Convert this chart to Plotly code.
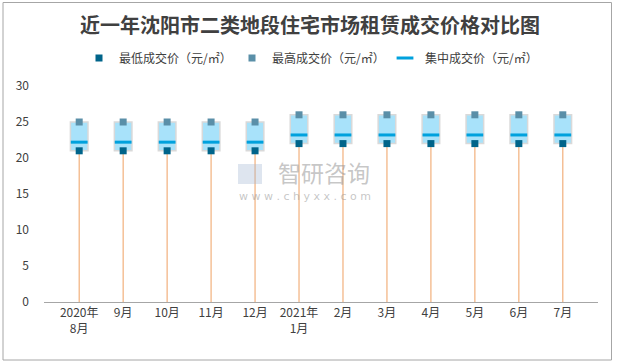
import plotly.graph_objects as go

categories = ["2020年<br>8月", "9月", "10月", "11月", "12月", "2021年<br>1月",
              "2月", "3月", "4月", "5月", "6月", "7月"]
min_price = [21, 21, 21, 21, 21, 22, 22, 22, 22, 22, 22, 22]
max_price = [25, 25, 25, 25, 25, 26, 26, 26, 26, 26, 26, 26]
mid_price = [22.2, 22.2, 22.2, 22.2, 22.2, 23.2, 23.2, 23.2, 23.2, 23.2, 23.2, 23.2]
y_ticks = [0, 5, 10, 15, 20, 25, 30]

FONT = "Noto Sans CJK SC"
W, H = 617, 363
L, R, T, B = 44, 19, 86, 61

fig = go.Figure()

# drop lines from axis to the low value
fig.add_trace(go.Scatter(
    x=categories, y=[0] * len(categories), mode="markers",
    marker=dict(size=1, color="rgba(0,0,0,0)"),
    error_y=dict(type="data", symmetric=False, array=min_price,
                 arrayminus=[0] * len(categories), width=0,
                 color="#f2b07c", thickness=1.2),
    showlegend=False, hoverinfo="skip"))

# boxes (up bars) from low to high
fig.add_trace(go.Bar(
    x=categories, y=[h - l for h, l in zip(max_price, min_price)], base=min_price,
    width=0.4, marker=dict(color="#a8e2fa", line=dict(color="#d9d9d9", width=1.5)),
    showlegend=False, hoverinfo="skip"))

fig.add_trace(go.Scatter(
    x=categories, y=min_price, mode="markers", name="最低成交价（元/㎡）",
    marker=dict(symbol="square", size=7, color="#00648a")))
fig.add_trace(go.Scatter(
    x=categories, y=max_price, mode="markers", name="最高成交价（元/㎡）",
    marker=dict(symbol="square", size=7, color="#5a8fa8")))
fig.add_trace(go.Scatter(
    x=categories, y=mid_price, mode="markers", name="集中成交价（元/㎡）",
    marker=dict(symbol="line-ew", size=12, line=dict(color="#00a1dd", width=3))))

pw = W - L - R
ph = H - T - B
def px(x):
    return (x - L) / pw
def py(y):
    return (H - B - y) / ph

fig.add_shape(type="rect", xref="paper", yref="paper",
              x0=px(3), x1=px(611.5), y0=py(2.5), y1=py(360),
              line=dict(color="#a6a6a6", width=1), layer="below")

fig.add_annotation(text="近一年沈阳市二类地段住宅市场租赁成交价格对比图",
                   xref="paper", yref="paper", x=px(310), y=py(25),
                   showarrow=False, xanchor="center", yanchor="middle",
                   font=dict(family=FONT, size=20, color="#404040", weight="bold"))

# watermark
fig.add_annotation(text="智研咨询", xref="paper", yref="paper", x=px(324), y=py(172),
                   showarrow=False, xanchor="center", yanchor="middle",
                   font=dict(family=FONT, size=23, color="rgba(150,150,150,0.55)"))
fig.add_annotation(text="w w w . c h y x x . c o m", xref="paper", yref="paper",
                   x=px(305), y=py(196), showarrow=False, xanchor="center", yanchor="middle",
                   font=dict(family="DejaVu Sans", size=11, color="rgba(150,150,150,0.55)"))
fig.add_shape(type="rect", xref="paper", yref="paper",
              x0=px(238), x1=px(262), y0=py(184), y1=py(164),
              line=dict(width=0), fillcolor="rgba(160,180,210,0.35)", layer="above")

fig.update_layout(
    width=W, height=H,
    margin=dict(l=L, r=R, t=T, b=B, autoexpand=False),
    paper_bgcolor="white", plot_bgcolor="white",
    font=dict(family=FONT, size=12, color="#404040"),
    showlegend=True,
    legend=dict(orientation="h", x=0.5, xref="container", xanchor="center",
                y=1 - 58 / H, yref="container", yanchor="middle",
                font=dict(family=FONT, size=12, color="#404040"),
                itemwidth=30, entrywidth=108, entrywidthmode="pixels",
                tracegroupgap=0, bgcolor="rgba(0,0,0,0)"),
    barmode="overlay",
    xaxis=dict(type="category", showgrid=False, showline=True, linecolor="#a6a6a6",
               linewidth=1, ticks="", tickfont=dict(size=12, color="#404040"),
               zeroline=False, automargin=False),
    yaxis=dict(range=[0, 30], tickvals=y_ticks, showgrid=False, showline=False,
               zeroline=False, ticks="", tickfont=dict(size=12, color="#404040"),
               ticklabelstandoff=14, automargin=False),
)

fig.write_html("out.html", config={"displayModeBar": False},
               post_script="document.body.style.margin='0';document.body.style.overflow='hidden';")
